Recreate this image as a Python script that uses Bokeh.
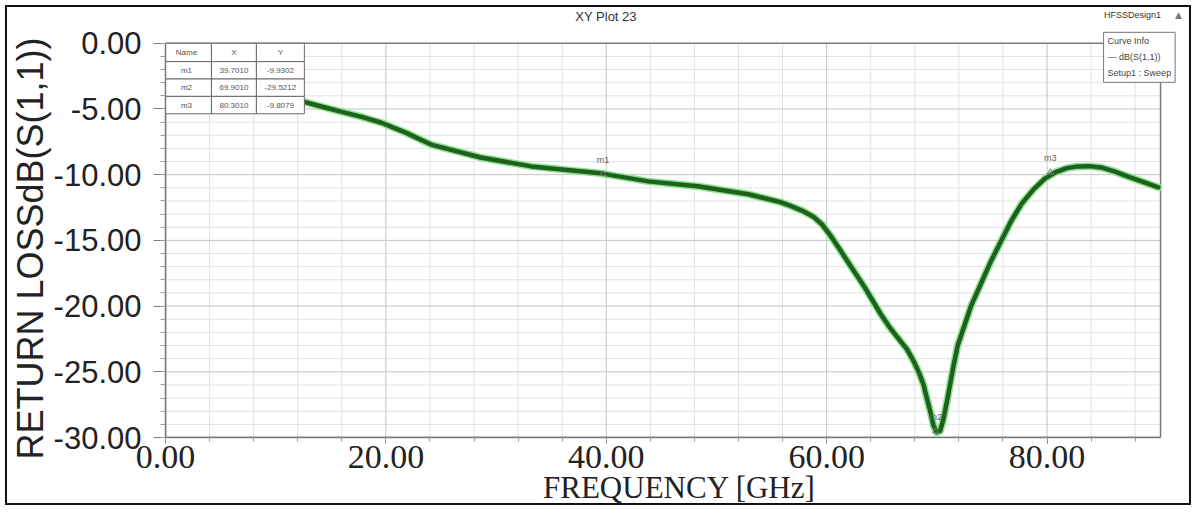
from bokeh.plotting import figure
from bokeh.models import FixedTicker, PrintfTickFormatter, Label, Range1d, Title
from bokeh.core.properties import value
from bokeh.embed import file_html
from bokeh.resources import INLINE

# ---------------- data ----------------
freq_ghz = [12.6, 14.3, 16.0, 17.8, 19.6, 21.8, 24.1, 28.6, 33.2, 39.5, 43.8, 48.3, 52.9, 55.8,
            56.8, 57.8, 58.8, 59.6, 60.4, 61.2, 61.9, 63.4, 64.9, 65.7, 66.5, 67.3, 67.9, 68.4,
            68.8, 69.0, 69.4, 69.7, 70.0, 70.3, 70.6, 71.0, 71.5, 71.9, 73.1, 74.0, 74.9, 75.8,
            76.7, 77.7, 78.8, 79.8, 80.8, 81.8, 82.8, 83.8, 84.9, 86.1, 87.3, 88.7, 90.1]
s11_db = [-4.46, -4.85, -5.22, -5.6, -6.05, -6.8, -7.71, -8.69, -9.37, -9.90, -10.51, -10.88, -11.49, -12.09,
          -12.4, -12.75, -13.2, -13.8, -14.7, -15.7, -16.6, -18.5, -20.6, -21.6, -22.45, -23.3, -24.2, -25.1,
          -26.0, -26.7, -28.0, -29.1, -29.6, -29.5, -28.6, -26.9, -24.6, -22.98, -20.0, -18.3, -16.6, -15.1,
          -13.6, -12.2, -11.1, -10.3, -9.8, -9.5, -9.37, -9.35, -9.45, -9.75, -10.13, -10.55, -10.96]

marker_names = ["m1", "m2", "m3"]
marker_freq = [39.7010, 69.9010, 80.3010]
marker_db = [-9.9302, -29.5212, -9.8079]
table_header = ["Name", "X", "Y"]

x_ticks = [0, 20, 40, 60, 80]
y_ticks = [0, -5, -10, -15, -20, -25, -30]
x_minor = [0, 4, 8, 12, 16, 20, 24, 28, 32, 36, 40, 44, 48, 52, 56, 60, 64, 68, 72, 76, 80, 84, 88]
y_minor = list(range(-30, 1))

title_text = "XY Plot 23"
design_text = "HFSSDesign1"
legend_text = "     Curve Info\n\u2014 dB(S(1,1))\nSetup1 : Sweep"
x_label = "FREQUENCY [GHz]"
y_label = "RETURN LOSSdB(S(1,1))"

# ---------------- layout geometry (page pixels) ----------------
OX, OY = 7, 7                        # canvas offset inside the black page border
W, H = 1186, 500                     # canvas size
PL, PR, PT, PB = 164, 1160, 43, 440  # plot area (axes box) in page pixels
FL, FR, FT, FB = 164, 1193, 8, 440   # Bokeh frame in page pixels (holds the titles too)
XMIN, XMAX = 0.0, 90.3
YMIN, YMAX = -30.0, 0.0
YLABEL_BOTTOM = 462                  # page y where the rotated y-axis title starts


def dx(px):
    return XMIN + (px - PL) / (PR - PL) * (XMAX - XMIN)


def dy(py):
    return YMAX - (py - PT) / (PB - PT) * (YMAX - YMIN)


p = figure(width=W, height=H, x_range=Range1d(dx(FL), dx(FR)), y_range=Range1d(dy(FB), dy(FT)),
           output_backend="svg", toolbar_location=None,
           min_border_left=FL - OX, min_border_right=(OX + W) - FR,
           min_border_top=FT - OY, min_border_bottom=(OY + H) - FB)
p.title.visible = False
p.background_fill_color = "white"
p.border_fill_color = "white"
p.outline_line_color = None
p.margin = (5, 0, 0, 5)
p.styles = {"border": "2px solid #111111"}
p.grid.visible = False

# axes
p.xaxis.ticker = FixedTicker(ticks=x_ticks, minor_ticks=x_minor)
p.yaxis.ticker = FixedTicker(ticks=y_ticks, minor_ticks=y_minor)
p.xaxis.formatter = PrintfTickFormatter(format="%.2f")
p.yaxis.formatter = PrintfTickFormatter(format="%.2f")
p.xaxis.bounds = (XMIN, XMAX)
p.yaxis.bounds = (YMIN, YMAX)

for ax in (p.xaxis[0], p.yaxis[0]):
    ax.axis_line_color = "#7a7a7a"
    ax.axis_line_width = 1.5
    ax.major_tick_line_color = "#7a7a7a"
    ax.minor_tick_line_color = "#9a9a9a"
    ax.major_tick_in = 0
    ax.minor_tick_in = 0
    ax.axis_label_text_font_style = "normal"
    ax.axis_label_text_color = "#222222"
    ax.major_label_text_color = "#222222"

p.xaxis.major_tick_out = 6
p.xaxis.minor_tick_out = 4
p.xaxis.major_label_text_font = "Liberation Serif"
p.xaxis.major_label_text_font_size = "34px"
p.xaxis.major_label_standoff = 2
p.xaxis.axis_label = x_label
p.xaxis.axis_label_text_font = "Liberation Serif"
p.xaxis.axis_label_text_font_size = "31px"
p.xaxis.axis_label_standoff = -1

p.yaxis.major_tick_out = 12
p.yaxis.minor_tick_out = 5
p.yaxis.major_label_text_font = "Liberation Sans"
p.yaxis.major_label_text_font_size = "31px"
p.yaxis.major_label_standoff = 12

# y-axis title as a side-panel title, so it can be placed where the reference has it
p.add_layout(Title(text=y_label, text_font="Liberation Sans", text_font_size="36px",
                   text_font_style="normal", text_color="#222222", align="left",
                   offset=FB - YLABEL_BOTTOM, standoff=0), "left")

# grid (limited to the plot area)
x_major_set = set(x_ticks)
y_major_set = set(y_ticks)
vx_minor = [x for x in x_minor if x not in x_major_set and XMIN < x < XMAX]
hy_minor = [y for y in y_minor if y not in y_major_set]
p.segment(x0=vx_minor, y0=[YMIN] * len(vx_minor), x1=vx_minor, y1=[YMAX] * len(vx_minor),
          line_color="#e2e2e2", line_width=1)
p.segment(x0=[XMIN] * len(hy_minor), y0=hy_minor, x1=[XMAX] * len(hy_minor), y1=hy_minor,
          line_color="#e2e2e2", line_width=1)
vx_major = [x for x in x_ticks if XMIN < x < XMAX]
hy_major = [y for y in y_ticks if YMIN < y < YMAX]
p.segment(x0=vx_major, y0=[YMIN] * len(vx_major), x1=vx_major, y1=[YMAX] * len(vx_major),
          line_color="#c4c4c4", line_width=1)
p.segment(x0=[XMIN] * len(hy_major), y0=hy_major, x1=[XMAX] * len(hy_major), y1=hy_major,
          line_color="#c4c4c4", line_width=1)
# plot-area box
p.quad(left=[XMIN], right=[XMAX], top=[YMAX], bottom=[YMIN], fill_color=None,
       line_color="#7a7a7a", line_width=1.5)

# curve
p.line(freq_ghz, s11_db, line_color="#8be38b", line_width=7.5, line_join="round", line_cap="round")
p.line(freq_ghz, s11_db, line_color="#1f5f1f", line_width=4.5, line_join="round", line_cap="round")

# markers on the curve
p.scatter(marker_freq, marker_db, marker="triangle", size=6, fill_color=None,
          line_color="#777777", line_width=1)
p.text(marker_freq, marker_db, text=marker_names, y_offset=-9, text_font=value("Liberation Sans"),
       text_font_size="9px", text_color="#666666", text_align="center", text_baseline="bottom")

# marker table (top-left)
col_px = [160, 210, 255, 303]
row_px = [43, 61.5, 79, 96.5, 114]
rows = [table_header] + [[n, "%.4f" % fx, "%.4f" % fy] for n, fx, fy in zip(marker_names, marker_freq, marker_db)]
ql, qr, qt, qb, tx, ty, tt = [], [], [], [], [], [], []
for ri, row in enumerate(rows):
    for ci, cell in enumerate(row):
        ql.append(dx(col_px[ci]))
        qr.append(dx(col_px[ci + 1]))
        qt.append(dy(row_px[ri]))
        qb.append(dy(row_px[ri + 1]))
        tx.append(dx((col_px[ci] + col_px[ci + 1]) / 2))
        ty.append(dy((row_px[ri] + row_px[ri + 1]) / 2))
        tt.append(cell)
p.quad(left=ql, right=qr, top=qt, bottom=qb, fill_color="white", line_color="#6a6a6a", line_width=1)
p.text(tx, ty, text=tt, text_font=value("Liberation Sans"), text_font_size="8px",
       text_color="#555555", text_align="center", text_baseline="middle")

# texts above / right of the plot area
p.add_layout(Label(x=dx(605), y=dy(16), text=title_text, text_font="Liberation Sans",
                   text_font_size="13px", text_color="#333333", text_align="center",
                   text_baseline="middle"))
p.add_layout(Label(x=dx(1132), y=dy(15), text=design_text, text_font="Liberation Sans",
                   text_font_size="9px", text_color="#333333", text_align="center",
                   text_baseline="middle"))
p.add_layout(Label(x=dx(1178), y=dy(15), text="\u25b2", text_font="DejaVu Sans",
                   text_font_size="9px", text_color="#777777", text_align="center",
                   text_baseline="middle"))
p.add_layout(Label(x=dx(1103), y=dy(32), text=legend_text, text_font="Liberation Sans",
                   text_font_size="9px", text_line_height=1.6, text_color="#444444",
                   text_align="left", text_baseline="top", border_line_color="#777777",
                   background_fill_color="white", padding=4))

open("out.html", "w").write(file_html(p, INLINE))
